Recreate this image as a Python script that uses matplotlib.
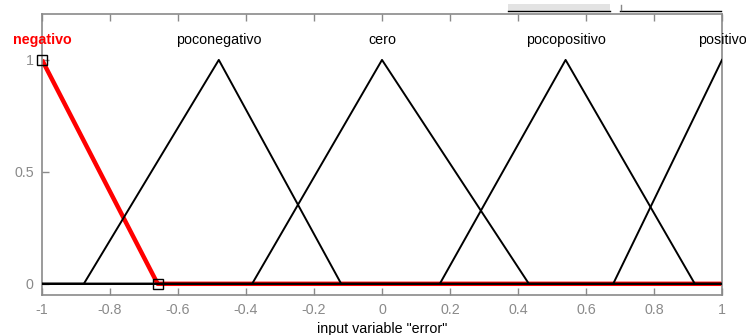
import matplotlib
matplotlib.use("Agg")
import matplotlib.pyplot as plt
import matplotlib.patches as mpatches
import numpy as np

plt.rcParams['font.family'] = ['Liberation Sans', 'DejaVu Sans']

# membership functions of the "error" input (triangles: a, b, c)
mf_names = ["negativo", "poconegativo", "cero", "pocopositivo", "positivo"]
mf_params = [
    [-1.34, -1.0, -0.66],
    [-0.877, -0.48, -0.12],
    [-0.382, 0.0, 0.432],
    [0.17, 0.54, 0.92],
    [0.68, 1.0, 1.32],
]
selected = 0

x_range = [-1.0, 1.0]
xticks = [-1, -0.8, -0.6, -0.4, -0.2, 0, 0.2, 0.4, 0.6, 0.8, 1]
xtick_labels = ["-1", "-0.8", "-0.6", "-0.4", "-0.2", "0", "0.2", "0.4", "0.6", "0.8", "1"]
yticks = [0, 0.5, 1]
ytick_labels = ["0", "0.5", "1"]

axis_grey = "#8a8a8a"
fs = 10.3


def trimf(x, a, b, c):
    left = (x - a) / (b - a)
    right = (c - x) / (c - b)
    return np.clip(np.minimum(left, right), 0, 1)


fig = plt.figure(figsize=(7.46, 3.35), dpi=100)
ax = fig.add_axes([42 / 746, 40 / 335, 680 / 746, 281 / 335])

x = np.linspace(x_range[0], x_range[1], 2001)
x = np.union1d(x, np.array([p for row in mf_params for p in row if x_range[0] <= p <= x_range[1]]))

# highlighted function first, the others drawn over it
a, b, c = mf_params[selected]
ax.plot(x, trimf(x, a, b, c), color="red", lw=3.2, zorder=2, solid_capstyle="butt")
for i, (a, b, c) in enumerate(mf_params):
    if i == selected:
        continue
    ax.plot(x, trimf(x, a, b, c), color="black", lw=1.4, zorder=3)

# handles of the selected function
a, b, c = mf_params[selected]
handle_x = [bb for bb in (b, c) if x_range[0] <= bb <= x_range[1]]
ax.plot(handle_x, trimf(np.array(handle_x), a, b, c), ls="none", marker="s",
        ms=7, mfc="none", mec="black", mew=1.0, zorder=4, clip_on=False)

for i, (name, (a, b, c)) in enumerate(zip(mf_names, mf_params)):
    if i == selected:
        ax.text(b, 1.09, name, ha="center", va="center", color="red",
                fontsize=fs, fontweight="bold")
    else:
        ax.text(b, 1.09, name, ha="center", va="center", color="black", fontsize=fs)

ax.set_xlim(x_range)
ax.set_ylim(-0.05, 1.205)
ax.set_xticks(xticks)
ax.set_xticklabels(xtick_labels)
ax.set_yticks(yticks)
ax.set_yticklabels(ytick_labels)
ax.tick_params(axis="both", direction="in", length=5, width=1, colors=axis_grey,
               labelsize=fs, labelcolor=axis_grey)
ax.tick_params(axis="x", top=True, pad=6)
ax.tick_params(axis="y", pad=6)
for side in ["top", "bottom", "left", "right"]:
    ax.spines[side].set_color(axis_grey)
    ax.spines[side].set_linewidth(1.2)
ax.set_xlabel('input variable "error"', fontsize=fs, color="black", labelpad=3)

# bits of the window toolbar above the plot
fig.patches.append(mpatches.Rectangle((508 / 746, 1 - 11 / 335), 102 / 746, 7 / 335,
                                      transform=fig.transFigure, facecolor="#e3e3e3",
                                      edgecolor="none"))
fig.lines.append(plt.Line2D([508 / 746, 610 / 746], [1 - 11 / 335] * 2,
                            transform=fig.transFigure, color="black", lw=1))
fig.lines.append(plt.Line2D([620 / 746, 721 / 746], [1 - 11 / 335] * 2,
                            transform=fig.transFigure, color="black", lw=1))
fig.lines.append(plt.Line2D([621 / 746, 621 / 746], [1 - 10 / 335, 1 - 5 / 335],
                            transform=fig.transFigure, color="#888888", lw=1))

fig.savefig("out.png", dpi=100)
